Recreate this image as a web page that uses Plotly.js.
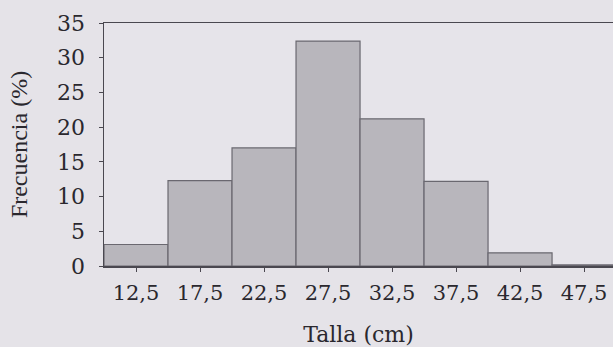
<!DOCTYPE html>
<html><head><meta charset="utf-8">
<script src="https://cdn.plot.ly/plotly-3.0.1.min.js"></script>
<style>html,body{margin:0;padding:0;background:#e5e3e8;overflow:hidden}</style>
</head><body><div id="chart" style="width:613px;height:347px"></div>
<script>
const classMarks = [12.5, 17.5, 22.5, 27.5, 32.5, 37.5, 42.5, 47.5];
const classLabels = ["12,5", "17,5", "22,5", "27,5", "32,5", "37,5", "42,5", "47,5"];
const frequency = [3.1, 12.3, 17.0, 32.4, 21.2, 12.2, 1.9, 0.15];
const yTicks = [0, 5, 10, 15, 20, 25, 30, 35];

const axisCol = '#4a4850';
const txtCol = '#2a282e';
Plotly.newPlot('chart', [{
  type: 'bar', x: classMarks, y: frequency, width: 5,
  marker: {color: '#b8b6bc', line: {color: '#6a6870', width: 1.2}},
  hoverinfo: 'none'
}], {
  width: 613, height: 347,
  margin: {l: 104, r: 0, t: 23, b: 81},
  paper_bgcolor: '#e5e3e8', plot_bgcolor: '#e6e4ea',
  showlegend: false,
  xaxis: {
    range: [10, 49.76], tickvals: classMarks, ticktext: classLabels,
    showline: true, linecolor: axisCol, linewidth: 1.5, mirror: true,
    ticks: 'outside', ticklen: 4, tickcolor: axisCol, showgrid: false, zeroline: false,
    ticklabelstandoff: 3,
    tickfont: {family: 'DejaVu Serif', size: 21, color: txtCol},
    title: {text: 'Talla (cm)', standoff: 28, font: {family: 'DejaVu Serif', size: 22, color: txtCol}}
  },
  yaxis: {
    range: [0, 35], tickvals: yTicks,
    showline: true, linecolor: axisCol, linewidth: 1.5,
    ticks: 'outside', ticklen: 4, tickcolor: axisCol, showgrid: false, zeroline: false,
    ticklabelstandoff: 9,
    tickfont: {family: 'DejaVu Serif', size: 22, color: txtCol},
    title: {text: 'Frecuencia (%)', standoff: 22, font: {family: 'Liberation Serif', size: 24, color: txtCol}}
  }
}, {displayModeBar: false, staticPlot: true});
</script></body></html>
